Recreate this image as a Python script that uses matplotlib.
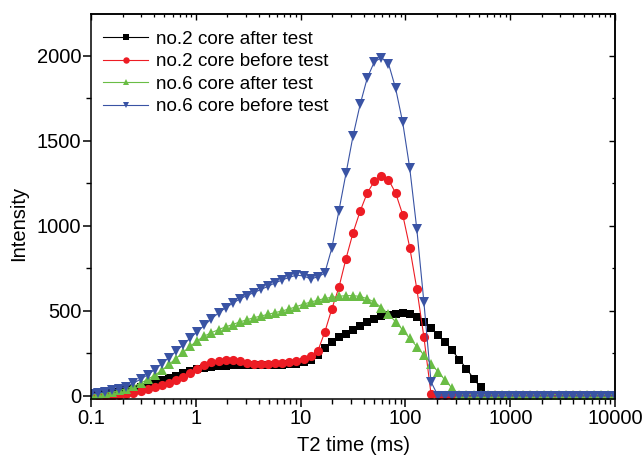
import matplotlib
matplotlib.use("Agg")
import matplotlib.pyplot as plt
from matplotlib.ticker import LogLocator, NullFormatter, MultipleLocator, FixedLocator, FixedFormatter

plt.rcParams['font.family'] = ['Liberation Sans', 'DejaVu Sans']

t2 = [0.1, 0.1168, 0.1365, 0.1595, 0.1864, 0.2178, 0.2543, 0.2972, 0.3472, 0.4057,
      0.474, 0.5538, 0.647, 0.756, 0.8833, 1.032, 1.205, 1.408, 1.646, 1.923,
      2.246, 2.624, 3.066, 3.583, 4.186, 4.891, 5.714, 6.676, 7.8, 9.114,
      10.65, 12.44, 14.54, 16.98, 19.84, 23.18, 27.09, 31.62, 36.95, 43.17,
      50.44, 58.93, 68.86, 80.45, 94.0, 109.8, 128.3, 149.9, 175.1, 204.6,
      239.1, 279.3, 326.3, 381.3, 445.5, 520.5, 608.1, 710.5, 830.1, 969.9,
      1133, 1324, 1546, 1807, 2111, 2466, 2881, 3367, 3933, 4596,
      5369, 6273, 7329, 8564, 10000]

no2_after = [5, 8, 12, 17, 24, 32, 42, 53, 65, 78, 92, 106, 120, 133, 146, 157, 166, 172, 176, 178,
             180, 180, 181, 181, 182, 182, 183, 184, 186, 190, 198, 212, 240, 282,
             317, 346, 365, 385, 414, 434, 453, 469, 478, 484, 488, 480, 462, 432, 400, 360, 317, 268, 213, 161, 102, 50] + [3] * 19

no2_before = [0, 0, 1, 2, 5, 10, 18, 28, 38, 50, 62, 75, 92, 110, 135, 158, 180, 198, 208, 214,
              212, 205, 195, 190, 190, 190, 192, 195, 200, 207, 218, 235, 262, 375,
              512, 639, 808, 960, 1087, 1194, 1262, 1291, 1272, 1194, 1067, 873, 629, 346, 12] + [3] * 26

no6_after = [8, 11, 16, 22, 32, 43, 57, 75, 97, 122, 150, 185, 220, 256, 292, 325, 352, 372, 390, 406,
             420, 435, 448, 460, 470, 480, 490, 500, 512, 525, 540, 552, 563, 573,
             580, 586, 590, 590, 585, 572, 552, 520, 480, 436, 388, 338, 290, 240, 190, 141, 92, 44] + [8] * 23

no6_before = [12, 17, 24, 32, 42, 55, 75, 98, 124, 155, 190, 225, 262, 300, 340, 377, 415, 453, 488, 518,
              545, 570, 590, 608, 626, 645, 665, 682, 698, 710, 706, 688, 700, 722,
              870, 1090, 1310, 1530, 1715, 1870, 1965, 1990, 1955, 1810, 1610, 1340, 980, 550, 83] + [0] * 26

labels = ["no.2 core after test", "no.2 core before test",
          "no.6 core after test", "no.6 core before test"]
x_ticks = [0.1, 1, 10, 100, 1000, 10000]
x_ticklabels = ["0.1", "1", "10", "100", "1000", "10000"]
y_ticks = [0, 500, 1000, 1500, 2000]

fig = plt.figure(figsize=(6.42, 4.57), dpi=100)
ax = fig.add_axes([0.1417, 0.127, 0.8165, 0.8425])

styles = [
    dict(color='black', marker='s', ms=5.8),
    dict(color='#ED1C24', marker='o', ms=6.6),
    dict(color='#6ABD45', marker='^', ms=7.0),
    dict(color='#3953A4', marker='v', ms=7.0),
]
for ys, lab, st in zip([no2_after, no2_before, no6_after, no6_before], labels, styles):
    ax.plot(t2, ys, color=st['color'], marker=st['marker'], markersize=st['ms'],
            markeredgewidth=0, linewidth=0.8, label=lab)

ax.set_xscale('log')
ax.set_xlim(0.1, 10000)
ax.set_ylim(-18, 2247)
ax.xaxis.set_major_locator(FixedLocator(x_ticks))
ax.xaxis.set_major_formatter(FixedFormatter(x_ticklabels))
ax.xaxis.set_minor_locator(LogLocator(base=10, subs=range(2, 10), numticks=20))
ax.xaxis.set_minor_formatter(NullFormatter())
ax.yaxis.set_major_locator(FixedLocator(y_ticks))
ax.yaxis.set_minor_locator(MultipleLocator(250))

for s in ax.spines.values():
    s.set_linewidth(1.1)
ax.tick_params(axis='both', which='major', direction='out', length=5.5, width=1.1,
               labelsize=14.5, pad=1.5)
ax.tick_params(axis='both', which='minor', direction='out', length=3.5, width=1.0)

# mirrored inward ticks on top and right
axt = ax.secondary_xaxis('top')
axt.xaxis.set_major_locator(FixedLocator(x_ticks))
axt.xaxis.set_minor_locator(LogLocator(base=10, subs=range(2, 10), numticks=20))
axt.xaxis.set_major_formatter(NullFormatter())
axt.xaxis.set_minor_formatter(NullFormatter())
axt.tick_params(which='major', direction='in', length=4, width=1.0)
axt.tick_params(which='minor', direction='in', length=2.5, width=0.9)
axt.spines['top'].set_linewidth(1.1)

axr = ax.secondary_yaxis('right')
axr.yaxis.set_major_locator(FixedLocator(y_ticks))
axr.yaxis.set_minor_locator(MultipleLocator(250))
axr.yaxis.set_major_formatter(NullFormatter())
axr.tick_params(which='major', direction='in', length=4, width=1.0)
axr.tick_params(which='minor', direction='in', length=2.5, width=0.9)
axr.spines['right'].set_linewidth(1.1)

ax.set_xlabel("T2 time (ms)", fontsize=14.5, labelpad=6)
ax.set_ylabel("Intensity", fontsize=14.5)
ax.yaxis.set_label_coords(-0.12, 0.455)

leg = ax.legend(loc='upper left', frameon=False, fontsize=13.6, handlelength=2.4,
                handletextpad=0.4, labelspacing=0.28, borderaxespad=0, borderpad=0,
                markerscale=0.7, bbox_to_anchor=(0.023, 0.957))

fig.savefig("out.png", dpi=100)
